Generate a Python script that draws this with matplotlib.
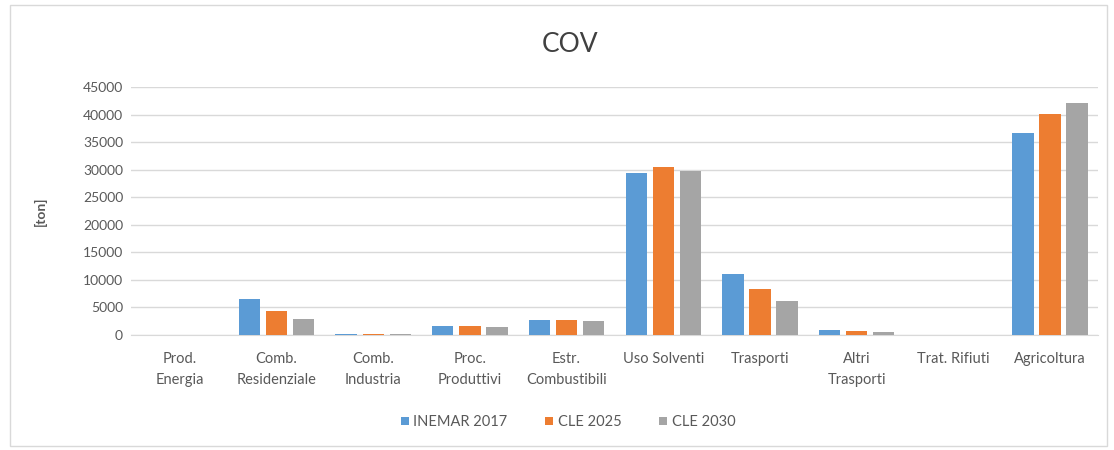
import matplotlib
matplotlib.use("Agg")
import matplotlib.pyplot as plt
import numpy as np
from matplotlib.patches import Rectangle

categories = ["Prod.\nEnergia", "Comb.\nResidenziale", "Comb.\nIndustria", "Proc.\nProduttivi",
              "Estr.\nCombustibili", "Uso Solventi", "Trasporti", "Altri\nTrasporti",
              "Trat. Rifiuti", "Agricoltura"]
inemar_2017 = [20, 6500, 200, 1600, 2700, 29400, 11000, 900, 20, 36600]
cle_2025 = [20, 4400, 200, 1600, 2700, 30500, 8300, 700, 20, 40100]
cle_2030 = [20, 2900, 150, 1500, 2600, 29800, 6100, 600, 20, 42100]
series_names = ["INEMAR 2017", "CLE 2025", "CLE 2030"]
colors = ["#5B9BD5", "#ED7D31", "#A5A5A5"]
yticks = list(range(0, 45001, 5000))

plt.rcParams['font.family'] = ['Lato', 'DejaVu Sans']

fig = plt.figure(figsize=(11.14, 4.5), dpi=100)
fig.patches.append(Rectangle((0.009, 0.01), 0.985, 0.978, transform=fig.transFigure,
                             fill=False, edgecolor="#D9D9D9", linewidth=1))
ax = fig.add_axes([0.118, 0.2556, 0.868, 0.551])

x = np.arange(len(categories))
w = 0.22
step = 0.28
for i, (vals, name, c) in enumerate(zip([inemar_2017, cle_2025, cle_2030], series_names, colors)):
    ax.bar(x + (i - 1) * step, vals, width=w, color=c, label=name, zorder=3)

ax.set_xlim(-0.5, len(categories) - 0.5)
ax.set_ylim(0, 45000)
ax.set_yticks(yticks)
ax.set_yticklabels([str(v) for v in yticks], color="#595959", fontsize=10)
ax.set_xticks(x)
ax.set_xticklabels(categories, color="#595959", fontsize=10.5, va="top", linespacing=1.65)
ax.tick_params(axis="both", length=0, pad=6)
ax.tick_params(axis="x", pad=12)
ax.grid(axis="y", color="#D9D9D9", linewidth=1, zorder=0)
for s in ["top", "right", "left"]:
    ax.spines[s].set_visible(False)
ax.spines["bottom"].set_color("#D9D9D9")
ax.set_ylabel("[ton]", fontsize=10, fontweight="bold", color="#595959", labelpad=26)

fig.text(0.512, 0.9, "COV", ha="center", va="center", fontsize=19, color="#404040")

leg = fig.legend(loc="center", bbox_to_anchor=(0.51, 0.062), ncol=3, frameon=False,
                 fontsize=10.5, handlelength=0.55, handleheight=0.55, handletextpad=0.3,
                 columnspacing=2.6)
for t in leg.get_texts():
    t.set_color("#595959")

fig.savefig("out.png", dpi=100)
